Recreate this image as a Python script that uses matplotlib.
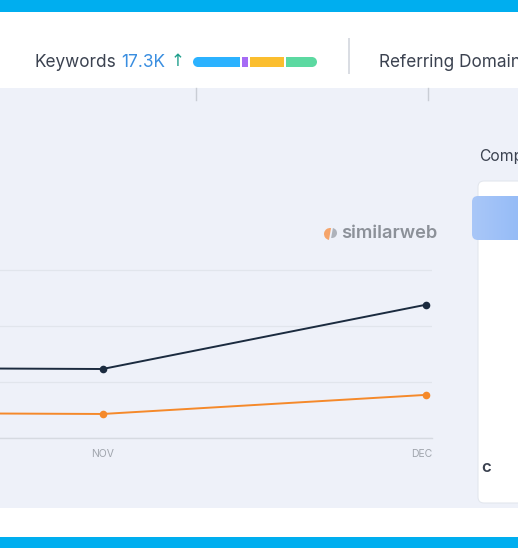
import matplotlib
matplotlib.use("Agg")
import matplotlib.pyplot as plt
from matplotlib.patches import Rectangle, FancyBboxPatch, Circle, Wedge
from matplotlib.colors import LinearSegmentedColormap
import matplotlib.transforms as mtrans
import numpy as np

# ---------------- data ----------------
months = ["OCT", "NOV", "DEC"]
site_visits = [1.258, 1.232, 2.38]        # dark series
competitor_visits = [0.454, 0.429, 0.77]  # orange series
grid_values = [0, 1, 2, 3]
keyword_label = "Keywords"
keyword_value = "17.3K"
keyword_shares = [39, 5, 32, 24]
keyword_colors = ["#2BB2FF", "#A66BF5", "#FBBE2F", "#5CD9A1"]

W, H = 518, 548
fig = plt.figure(figsize=(W / 100, H / 100), dpi=100)
fig.patch.set_facecolor("white")

FONT = ["Inter", "DejaVu Sans"]

# background canvas in pixel coordinates
bg = fig.add_axes([0, 0, 1, 1])
bg.set_xlim(0, W)
bg.set_ylim(H, 0)
bg.axis("off")

# blue bands
bg.add_patch(Rectangle((0, 0), W, 12, color="#00AEEF", lw=0))
bg.add_patch(Rectangle((0, 537), W, 11, color="#00AEEF", lw=0))
# grey content area
bg.add_patch(Rectangle((0, 88), W, 420, color="#EEF1F9", lw=0))

# header
bg.text(34, 62.5, keyword_label, fontsize=12.4, color="#3B4250", va="center", ha="left", family=FONT)
bg.text(121, 62.5, keyword_value, fontsize=12.4, color="#3A8EE0", va="center", ha="left", family=FONT)
bg.text(171, 61.5, "\u2191", fontsize=12, color="#1E9F8C", va="center", ha="left", family=["DejaVu Sans"])

# segmented keyword bar
bx0, bx1, by, bh, gap = 198, 312, 62, 10, 2
total = sum(keyword_shares)
avail = (bx1 - bx0) - gap * (len(keyword_shares) - 1)
x = bx0
for i, (s, c) in enumerate(zip(keyword_shares, keyword_colors)):
    w = avail * s / total
    bg.add_patch(Rectangle((x, by - bh / 2), w, bh, color=c, lw=0))
    if i == 0:
        bg.add_patch(Circle((x, by), bh / 2, color=c, lw=0))
    if i == len(keyword_shares) - 1:
        bg.add_patch(Circle((x + w, by), bh / 2, color=c, lw=0))
    x += w + gap

# divider
bg.plot([349, 349], [38, 74], color="#D3D7DE", lw=1.2, solid_capstyle="butt")
bg.text(379, 62.5, "Referring Domains", fontsize=12.4, color="#3B4250", va="center", ha="left", family=FONT)

# little ticks under header
for tx in (196, 428):
    bg.plot([tx, tx], [88, 100], color="#C9CDD5", lw=1.0)

# watermark
bg.add_patch(Wedge((330, 234), 6, 100, 280, color="#F5A46A", lw=0))
bg.add_patch(Wedge((332, 233), 5, -80, 100, color="#9EA3AB", lw=0, alpha=0.8))
bg.text(341, 233, "similarweb", fontsize=13.2, color="#8C9199", va="center", ha="left",
        family=FONT, fontweight="semibold")

# right panel
bg.text(479, 157, "Comp", fontsize=11.3, color="#3B4250", va="center", ha="left", family=FONT)
bg.add_patch(FancyBboxPatch((478, 181), 60, 322, boxstyle="round,pad=0,rounding_size=6",
                            fc="white", ec="#E3E7EE", lw=0.8))
# gradient button
grad = np.linspace(0, 1, 64).reshape(1, -1)
cmap = LinearSegmentedColormap.from_list("btn", ["#A9C7F8", "#8CB6F6"])
btn = FancyBboxPatch((472, 196), 70, 44, boxstyle="round,pad=0,rounding_size=6",
                     fc="none", ec="none")
bg.add_patch(btn)
im = bg.imshow(grad, extent=[472, 542, 240, 196], cmap=cmap, aspect="auto", zorder=3)
im.set_clip_path(btn)
bg.set_xlim(0, W)
bg.set_ylim(H, 0)
bg.text(481, 467, "c", fontsize=12, color="#3B4250", va="center", ha="left",
        family=FONT, fontweight="semibold")

# ---------------- line chart ----------------
ux = 323.5            # pixels per month
x_nov = 102.5
left_px, right_px = 0, 432
bottom_px, top_px = 438, 214
uy = 56.0             # pixels per grid unit

xl = 1 - (x_nov - left_px) / ux
xr = 1 + (right_px - x_nov) / ux
yt = (bottom_px - top_px) / uy

ax = fig.add_axes([left_px / W, (H - bottom_px) / H, (right_px - left_px) / W,
                   (bottom_px - top_px) / H])
ax.set_facecolor("none")
xs = np.arange(len(months))

ax.plot(xs, competitor_visits, color="#F5892A", lw=1.4, marker="o", ms=5.5,
        markeredgewidth=0, zorder=3)
ax.plot(xs, site_visits, color="#1B2B3F", lw=1.4, marker="o", ms=5.5,
        markeredgewidth=0, zorder=4)

ax.set_yticks(grid_values)
ax.yaxis.grid(True, color="#E1E5EC", lw=0.9)
ax.set_axisbelow(True)
for s in ["top", "right", "left"]:
    ax.spines[s].set_visible(False)
ax.spines["bottom"].set_color("#D6DAE1")
ax.spines["bottom"].set_linewidth(1.0)
ax.tick_params(axis="y", left=False, labelleft=False)
ax.tick_params(axis="x", length=0, pad=8, labelsize=7.5, labelcolor="#A0A5AD")
ax.set_xticks(xs)
labels = ax.set_xticklabels(months, family=FONT)
labels[-1].set_horizontalalignment("right")
labels[-1].set_transform(labels[-1].get_transform() +
                         mtrans.ScaledTranslation(6 / 100, 0, fig.dpi_scale_trans))
ax.set_xlim(xl, xr)
ax.set_ylim(0, yt)

fig.savefig("out.png", dpi=100, facecolor=fig.get_facecolor())
